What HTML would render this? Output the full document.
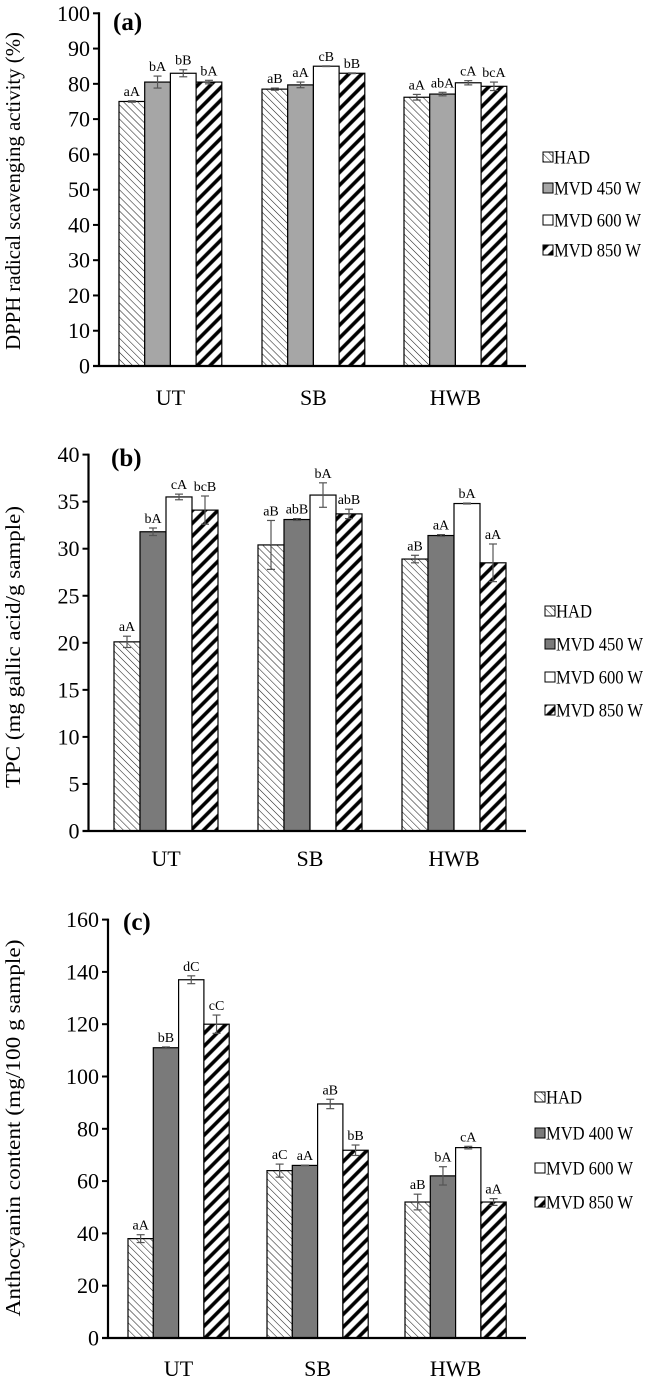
<!DOCTYPE html>
<html><head><meta charset="utf-8">
<style>
html,body{margin:0;padding:0;background:#fff;}
svg{display:block;}
svg text{font-family:"Liberation Serif","Times New Roman",serif;}
</style></head>
<body>
<svg id="fig" width="646" height="1380" viewBox="0 0 646 1380" xmlns="http://www.w3.org/2000/svg">
<defs>
<pattern id="pHAD" patternUnits="userSpaceOnUse" width="5" height="5" patternTransform="rotate(-45)">
<rect width="5" height="5" fill="#fff"/><line x1="0" y1="0" x2="0" y2="5" stroke="#222" stroke-width="1.1"/></pattern>
<pattern id="p850" patternUnits="userSpaceOnUse" width="9" height="9" patternTransform="rotate(45)">
<rect width="9" height="9" fill="#fff"/><line x1="2" y1="0" x2="2" y2="9" stroke="#000" stroke-width="3.6"/></pattern>
</defs>
</svg>
<script>
// Panel (a) DPPH
const catsA = ["UT","SB","HWB"];
const seriesNamesA = ["HAD","MVD 450 W","MVD 600 W","MVD 850 W"];
const hadA = [75.0,78.5,76.2];
const mvd450A = [80.5,79.7,77.1];
const mvd600A = [83.0,85.0,80.3];
const mvd850A = [80.5,83.0,79.3];
const errHadA = [0.2,0.3,0.8];
const err450A = [1.7,0.8,0.5];
const err600A = [1.0,0.1,0.6];
const err850A = [0.5,0.1,1.2];
const letHadA = ["aA","aB","aA"];
const let450A = ["bA","aA","abA"];
const let600A = ["bB","cB","cA"];
const let850A = ["bA","bB","bcA"];
const ticksA = [0,10,20,30,40,50,60,70,80,90,100];
// Panel (b) TPC
const catsB = ["UT","SB","HWB"];
const seriesNamesB = ["HAD","MVD 450 W","MVD 600 W","MVD 850 W"];
const hadB = [20.1,30.4,28.9];
const mvd450B = [31.8,33.1,31.4];
const mvd600B = [35.5,35.7,34.8];
const mvd850B = [34.1,33.7,28.5];
const errHadB = [0.6,2.6,0.4];
const err450B = [0.4,0.1,0.1];
const err600B = [0.3,1.3,0.05];
const err850B = [1.5,0.5,2.0];
const letHadB = ["aA","aB","aB"];
const let450B = ["bA","abB","aA"];
const let600B = ["cA","bA","bA"];
const let850B = ["bcB","abB","aA"];
const ticksB = [0,5,10,15,20,25,30,35,40];
// Panel (c) Anthocyanin
const catsC = ["UT","SB","HWB"];
const seriesNamesC = ["HAD","MVD 400 W","MVD 600 W","MVD 850 W"];
const hadC = [38,64,52];
const mvd400C = [111,66,62];
const mvd600C = [137,89.5,72.8];
const mvd850C = [120,71.8,52];
const errHadC = [1.5,2.5,3.0];
const err400C = [0.3,0.1,3.5];
const err600C = [1.5,1.8,0.5];
const err850C = [3.5,2.0,1.3];
const letHadC = ["aA","aC","aB"];
const let400C = ["bB","aA","bA"];
const let600C = ["dC","aB","cA"];
const let850C = ["cC","bB","aA"];
const ticksC = [0,20,40,60,80,100,120,140,160];

const NS="http://www.w3.org/2000/svg";
const svg=document.getElementById('fig');
function mk(tag,attrs,parent){const e=document.createElementNS(NS,tag);for(const k in attrs)e.setAttribute(k,attrs[k]);(parent||svg).appendChild(e);return e;}
const fills=["url(#pHAD)",null,"#fff","url(#p850)"];
const FF='"Liberation Serif", serif';

function panel(cfg){
  const g=mk('g',{'font-family':FF});
  
  
  const y=v=>cfg.y0-(v-0)/(cfg.max)*(cfg.y0-cfg.yTop);
  cfg.series.forEach((vals,s)=>{
    vals.forEach((v,i)=>{
      const x=cfg.groupX[i]+s*cfg.bw;
      const r=mk('rect',{x:x,y:y(v),width:cfg.bw,height:cfg.y0-y(v),fill:fills[s]||cfg.gray,stroke:'#000','stroke-width':1.2},g);
      
      
      const e=cfg.errs[s][i];const cx=x+cfg.bw/2;
      const eg=mk('g',{stroke:'#555','stroke-width':1.2},g);
      
      
      mk('line',{x1:cx,x2:cx,y1:y(v+e),y2:y(v-e)},eg);
      mk('line',{x1:cx-4,x2:cx+4,y1:y(v+e),y2:y(v+e)},eg);
      mk('line',{x1:cx-4,x2:cx+4,y1:y(v-e),y2:y(v-e)},eg);
      const t=mk('text',{x:cx,y:y(v+e)-5,'text-anchor':'middle','font-size':14,'font-family':FF},g);
      t.textContent=cfg.lets[s][i];
      
      
    });
  });
  const ax=mk('line',{x1:cfg.axX,x2:cfg.axX,y1:cfg.yTop-1,y2:cfg.y0+1,stroke:'#000','stroke-width':2.2},g);
  
  const xa=mk('line',{x1:cfg.axX-6,x2:526,y1:cfg.y0,y2:cfg.y0,stroke:'#000','stroke-width':2.2},g);
  
  cfg.ticks.forEach(tv=>{
    mk('line',{x1:cfg.axX-6,x2:cfg.axX,y1:y(tv),y2:y(tv),stroke:'#000','stroke-width':2},g);
    const t=mk('text',{x:cfg.axX-9,y:y(tv)+7.5,'text-anchor':'end','font-size':22,'font-family':FF},g);
    t.textContent=tv;
    
    
  });
  cfg.cats.forEach((c,i)=>{
    const t=mk('text',{x:cfg.groupX[i]+2*cfg.bw,y:cfg.catY,'text-anchor':'middle','font-size':22,'font-family':FF},g);
    t.textContent=c;
    
    
  });
  const tt=mk('text',{x:0,y:0,'text-anchor':'middle','font-size':21,'font-family':FF,textLength:cfg.titleLen,lengthAdjust:'spacingAndGlyphs',transform:`translate(${cfg.titleX},${cfg.titleY}) rotate(-90)`},g);
  tt.textContent=cfg.title;
  
  
  const pl=mk('text',{x:cfg.plX,y:cfg.plY,'font-size':25,'font-weight':'bold','font-family':FF},g);
  pl.textContent=cfg.plabel;
  
  
  cfg.names.forEach((n,s)=>{
    const ly=cfg.legY[s];
    const lg=mk('g',{},g);
    
    
    mk('rect',{x:cfg.legX,y:ly-5,width:10,height:10,fill:fills[s]||cfg.gray,stroke:'#000','stroke-width':1},lg);
    const t=mk('text',{x:cfg.legX+11,y:ly+6.5,'font-size':19,'font-family':FF,textLength:(n==='HAD'?36:87),lengthAdjust:'spacingAndGlyphs'},lg);
    t.textContent=n;
  });
}

panel({id:'a',cats:catsA,names:seriesNamesA,series:[hadA,mvd450A,mvd600A,mvd850A],errs:[errHadA,err450A,err600A,err850A],
 lets:[letHadA,let450A,let600A,let850A],ticks:ticksA,max:100,y0:366,yTop:13.3,axX:99,groupX:[119,262,404],bw:25.7,
 gray:'#a6a6a6',catY:405,title:'DPPH radical scavenging activity (%)',titleX:20,titleY:191,titleLen:318,plX:113,plY:30,plabel:'(a)',
 legX:543,legY:[157,188,220,250]});
panel({id:'b',cats:catsB,names:seriesNamesB,series:[hadB,mvd450B,mvd600B,mvd850B],errs:[errHadB,err450B,err600B,err850B],
 lets:[letHadB,let450B,let600B,let850B],ticks:ticksB,max:40,y0:831,yTop:454.6,axX:88.5,groupX:[114,258,402],bw:26,
 gray:'#7a7a7a',catY:866,title:'TPC (mg gallic acid/g sample)',titleX:20,titleY:647,titleLen:282,plX:111,plY:466,plabel:'(b)',
 legX:545,legY:[611,644,677,710]});
panel({id:'c',cats:catsC,names:seriesNamesC,series:[hadC,mvd400C,mvd600C,mvd850C],errs:[errHadC,err400C,err600C,err850C],
 lets:[letHadC,let400C,let600C,let850C],ticks:ticksC,max:160,y0:1338,yTop:919.6,axX:108,groupX:[128,267,405],bw:25.3,
 gray:'#7a7a7a',catY:1376,title:'Anthocyanin content (mg/100 g sample)',titleX:20,titleY:1128,titleLen:377,plX:123,plY:930,plabel:'(c)',
 legX:535,legY:[1097,1133,1168,1202]});
</script>
</body></html>
